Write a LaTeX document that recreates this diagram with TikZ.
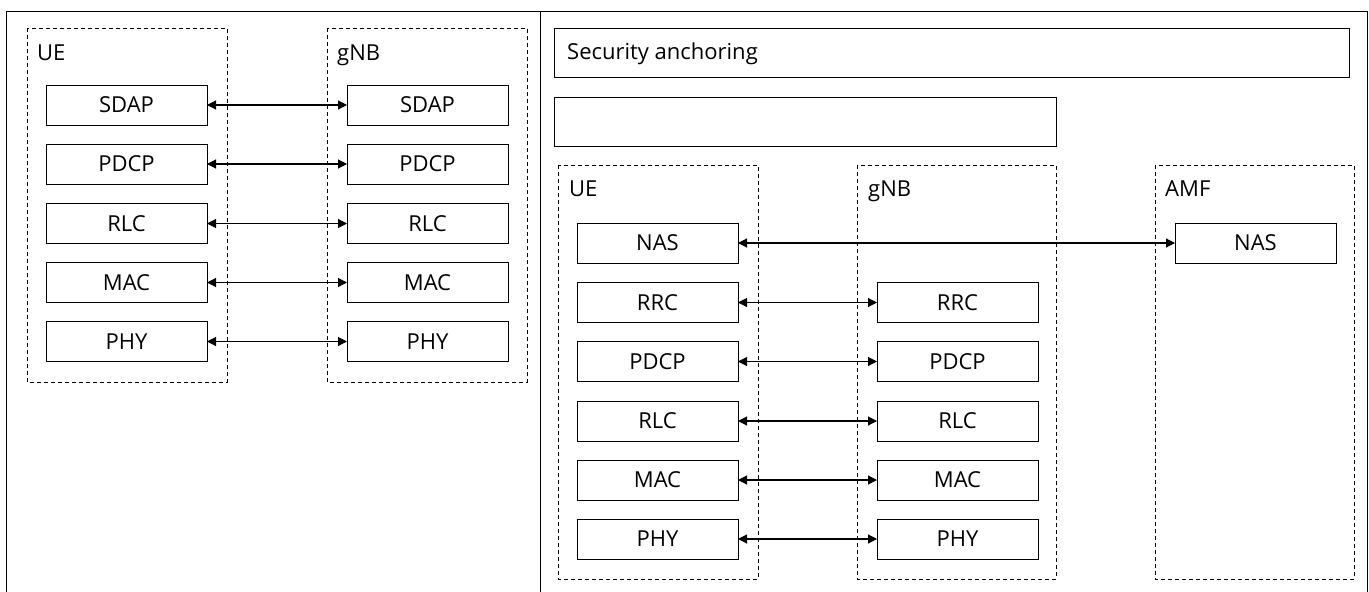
\documentclass[tikz,border=0pt]{standalone}
\usepackage{fontspec}
\setmainfont{Open Sans}
\usetikzlibrary{arrows.meta}
\begin{document}
\begin{tikzpicture}[x=1pt,y=-1pt,
  layer/.style={draw, line width=1pt, minimum width=161pt, minimum height=40pt, inner sep=0pt, font=\fontsize{22}{24}\selectfont},
  group/.style={draw, dashed, dash pattern=on 4pt off 3pt, line width=1pt},
  plainbox/.style={draw, line width=1pt},
  lbl/.style={anchor=base west, inner sep=0pt, font=\fontsize{22}{24}\selectfont},
  link/.style={line width=1.1pt, {Triangle[length=9pt,width=9pt]}-{Triangle[length=9pt,width=9pt]}, shorten <=-0.5pt, shorten >=-0.5pt}]
\useasboundingbox (0,0) rectangle (1369,592);
% outer frame
\draw[line width=1pt] (6,592) -- (6,11) -- (1367,11) -- (1367,592);
\draw[line width=1pt] (540,11) -- (540,592);

% left panel
\draw[group] (27,28) rectangle (227,382);
\draw[group] (327,28) rectangle (527,382);
\node[lbl] (lue) at (37,60) {UE};
\node[lbl] (lgnb) at (337,60) {gNB};
\foreach \n/\t/\y in {sdap/SDAP/105, pdcp/PDCP/164, rlc/RLC/223.5, mac/MAC/282.5, phy/PHY/341.5} {
  \node[layer] (lu\n) at (126.5,\y) {\t};
  \node[layer] (lg\n) at (427.5,\y) {\t};
  \draw[link] (lu\n.east) -- (lg\n.west);
}

% right panel
\node[plainbox, minimum width=795pt, minimum height=49pt, inner sep=0pt] (sec) at (951.5,52.5) {};
\node[lbl] (sect) at (567,59.5) {Security anchoring};
\node[plainbox, minimum width=502pt, minimum height=49pt, inner sep=0pt] (empty) at (805,121.5) {};

\draw[group] (558,165) rectangle (758,579);
\draw[group] (857,165) rectangle (1056,579);
\draw[group] (1155,165) rectangle (1354,579);
\node[lbl] (rue) at (569,196) {UE};
\node[lbl] (rgnb) at (868,196) {gNB};
\node[lbl] (ramf) at (1165,196) {AMF};

\node[layer] (runas) at (657.5,243) {NAS};
\node[layer] (ramfnas) at (1255.5,243) {NAS};
\draw[link] (runas.east) -- (ramfnas.west);
\foreach \n/\t/\y in {rrc/RRC/302.5, pdcp/PDCP/361.5, rlc/RLC/421, mac/MAC/480, phy/PHY/539} {
  \node[layer] (ru\n) at (657.5,\y) {\t};
  \node[layer] (rg\n) at (957.5,\y) {\t};
  \draw[link] (ru\n.east) -- (rg\n.west);
}
\end{tikzpicture}
\end{document}
